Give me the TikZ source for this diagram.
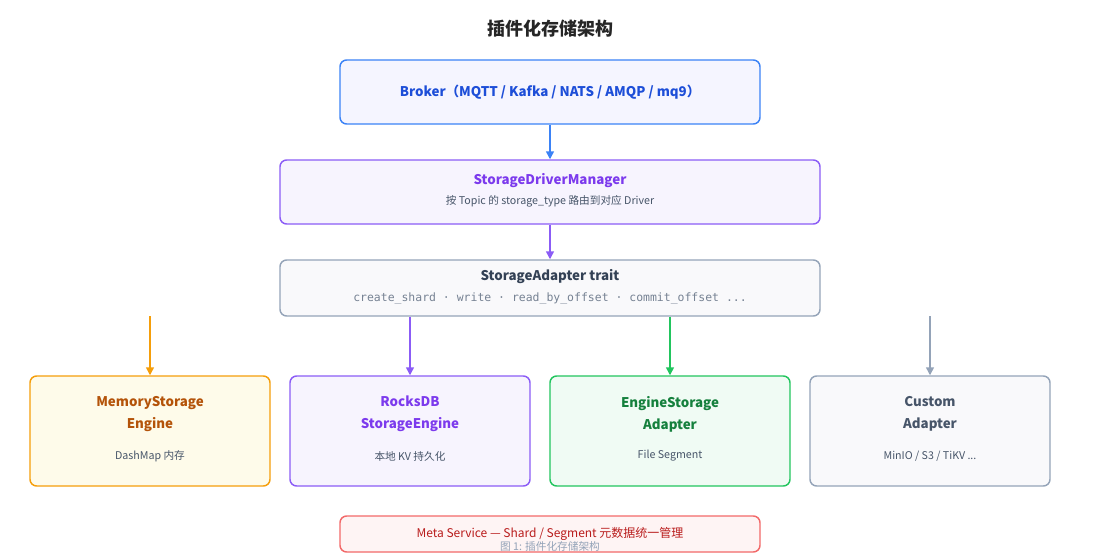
\documentclass[tikz,border=0pt]{standalone}
\usepackage{fontspec}
\setmainfont{Noto Sans CJK SC}
\setmonofont{DejaVu Sans Mono}
\usetikzlibrary{arrows.meta, positioning}
\definecolor{brokerblue}{HTML}{3B82F6}
\definecolor{brokertext}{HTML}{1D4ED8}
\definecolor{mgrpurple}{HTML}{8B5CF6}
\definecolor{mgrtext}{HTML}{7C3AED}
\definecolor{traitgray}{HTML}{94A3B8}
\definecolor{traittext}{HTML}{334155}
\definecolor{subgray}{HTML}{475569}
\definecolor{memorange}{HTML}{F59E0B}
\definecolor{memfill}{HTML}{FEFBEA}
\definecolor{memtext}{HTML}{B45309}
\definecolor{enggreen}{HTML}{22C55E}
\definecolor{engtext}{HTML}{15803D}
\definecolor{metared}{HTML}{EF4444}
\definecolor{metatext}{HTML}{B91C1C}
\begin{document}
\begin{tikzpicture}[x=0.75pt, y=-0.75pt,
  box/.style={rectangle, rounded corners=5pt, line width=1.1pt, align=center, inner sep=0pt},
  wide/.style={box, minimum width=315pt, minimum height=48pt},
  mid/.style={box, minimum width=405pt, minimum height=48pt},
  engine/.style={box, minimum width=180pt, minimum height=82.5pt},
  head/.style={font=\fontsize{10}{16.5}\selectfont\bfseries, align=center},
  sub/.style={font=\fontsize{8}{10}\selectfont, text=subgray},
  arrow/.style={-{Triangle[length=6pt, width=6pt]}, line width=1.1pt}
]
  \useasboundingbox (0,0) rectangle (1100,560);
  \node[font=\fontsize{13.5}{16}\selectfont\bfseries, text=black!85] (title) at (550,29) {插件化存储架构};

  % Upper stack
  \node[wide, draw=brokerblue, fill=blue!4, head, text=brokertext] (broker) at (550,92)
    {Broker（MQTT / Kafka / NATS / AMQP / mq9）};
  \node[mid, draw=mgrpurple, fill=mgrpurple!7] (manager) at (550,192) {};
  \node[head, text=mgrtext] (mgrname) at (550,181) {StorageDriverManager};
  \node[sub] (mgrdesc) at (550,201) {按 Topic 的 storage\_type 路由到对应 Driver};
  \node[box, minimum width=405pt, minimum height=42pt, draw=traitgray, fill=traitgray!6] (trait) at (550,288) {};
  \node[head, text=traittext] (traitname) at (550,277) {StorageAdapter trait};
  \node[font=\ttfamily\fontsize{8.6}{10}\selectfont, text=traitgray!80!black] (traitops) at (550,298)
    {create\_shard · write · read\_by\_offset · commit\_offset ...};

  % Engines
  \node[engine, draw=memorange, fill=memfill] (memory) at (150,431) {};
  \node[head, text=memtext] at (150,414) {MemoryStorage\\Engine};
  \node[sub] at (150,456) {DashMap 内存};
  \node[engine, draw=mgrpurple, fill=mgrpurple!7] (rocks) at (410,431) {};
  \node[head, text=mgrtext] at (410,414) {RocksDB\\StorageEngine};
  \node[sub] at (410,456) {本地 KV 持久化};
  \node[engine, draw=enggreen, fill=enggreen!7] (engstore) at (670,431) {};
  \node[head, text=engtext] at (670,414) {EngineStorage\\Adapter};
  \node[sub] at (670,456) {File Segment};
  \node[engine, draw=traitgray, fill=traitgray!6] (custom) at (930,431) {};
  \node[head, text=subgray] at (930,414) {Custom\\Adapter};
  \node[sub] at (930,456) {MinIO / S3 / TiKV ...};

  % Meta
  \node[box, minimum width=315pt, minimum height=27pt, draw=metared!80, fill=metared!6,
    font=\fontsize{9}{11}\selectfont, text=metatext] (meta) at (550,534)
    {Meta Service — Shard / Segment 元数据统一管理};
  \node[font=\fontsize{8}{10}\selectfont, text=traitgray] (caption) at (550,546) {图 1:  插件化存储架构};

  % Arrows
  \coordinate (memtop) at (150,316);
  \coordinate (custtop) at (930,316);
  \draw[arrow, brokerblue] (broker) -- (manager);
  \draw[arrow, mgrpurple] (manager) -- (trait);
  \draw[arrow, memorange] (memtop) -- (memory);
  \draw[arrow, mgrpurple] (trait.south -| rocks) -- (rocks);
  \draw[arrow, enggreen] (trait.south -| engstore) -- (engstore);
  \draw[arrow, traitgray] (custtop) -- (custom);
\end{tikzpicture}
\end{document}
